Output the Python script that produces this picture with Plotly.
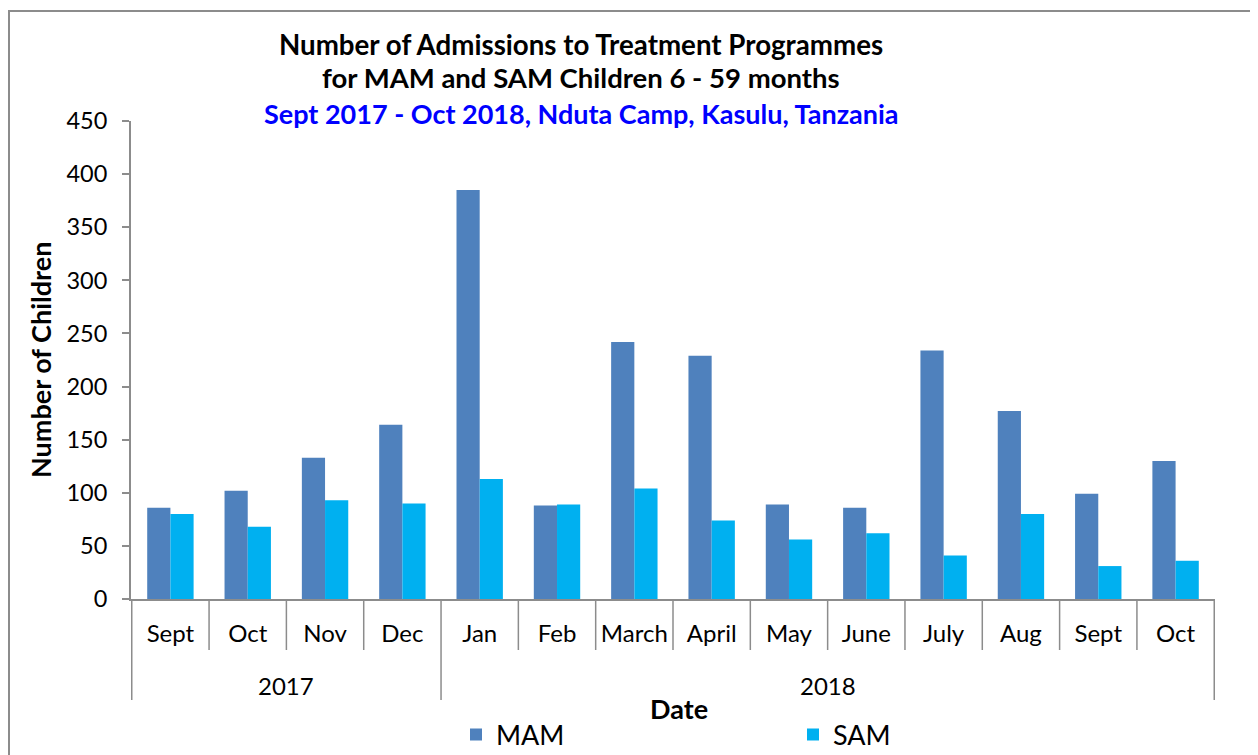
import plotly.graph_objects as go

years = ["2017"] * 4 + ["2018"] * 10
months = ["Sept", "Oct", "Nov", "Dec", "Jan", "Feb", "March", "April",
          "May", "June", "July", "Aug", "Sept", "Oct"]
mam = [86, 102, 133, 164, 385, 88, 242, 229, 89, 86, 234, 177, 99, 130]
sam = [80, 68, 93, 90, 113, 89, 104, 74, 56, 62, 41, 80, 31, 36]

FONT = "Lato"
OFF = 8                      # page body margin
W, H = 1258 - OFF, 755 - OFF
# target plot area in screen pixels: x 131..1215, y 121..599
L, R = 131 - OFF, (W + OFF) - 1215
T, B = 121 - OFF, (H + OFF) - 599

keys = [f"{m} {y}" for m, y in zip(months, years)]

fig = go.Figure()
fig.add_trace(go.Bar(name="MAM", x=keys, y=mam,
                     marker=dict(color="#4F81BD", line=dict(width=0))))
fig.add_trace(go.Bar(name="SAM", x=keys, y=sam,
                     marker=dict(color="#00B0F0", line=dict(width=0))))

axis_col = "#8c8c8c"

def px_to_paper_x(px):
    return (px - OFF - L) / (W - L - R)

def px_to_paper_y(py):
    return (H - B - (py - OFF)) / (H - T - B)

fig.update_layout(
    width=W, height=H,
    margin=dict(l=L, r=R, t=T, b=B, pad=0, autoexpand=False),
    paper_bgcolor="white", plot_bgcolor="white",
    barmode="group", bargap=0.4, bargroupgap=0,
    font=dict(family=FONT, size=24, color="black"),
    showlegend=True,
    legend=dict(orientation="h", x=px_to_paper_x(456), xanchor="left",
                y=px_to_paper_y(735), yanchor="middle",
                entrywidth=292, font=dict(size=27), itemwidth=30,
                bgcolor="rgba(0,0,0,0)"),
    xaxis=dict(type="category", tickvals=keys, ticktext=months,
               showline=True, linecolor=axis_col, linewidth=2,
               ticks="", showgrid=False, automargin=False,
               tickfont=dict(size=24), ticklabelstandoff=12),
    yaxis=dict(range=[0, 450], dtick=50, showline=True, linecolor=axis_col, linewidth=2,
               ticks="outside", ticklen=7, tickcolor=axis_col, tickwidth=1.5,
               showgrid=False, zeroline=False, tickfont=dict(size=23.5),
               ticklabelstandoff=10, automargin=False),
)

# category boundary lines below the axis
n = len(months)
for i in range(n + 1):
    bx = i - 0.5
    is_year_edge = (i == 0 or i == n or (0 < i < n and years[i] != years[i - 1]))
    y_end = 700 if is_year_edge else 650
    fig.add_shape(type="line", xref="x", yref="paper",
                  x0=bx, x1=bx, y0=0, y1=px_to_paper_y(y_end),
                  line=dict(color=axis_col, width=1.5))

# year labels
for yr in ["2017", "2018"]:
    idx = [i for i, y in enumerate(years) if y == yr]
    fig.add_annotation(text=yr, xref="x", yref="paper",
                       x=(idx[0] + idx[-1]) / 2, y=px_to_paper_y(685),
                       xanchor="center", yanchor="middle", showarrow=False,
                       font=dict(size=24, color="black", family=FONT))

title_lines = [
    ("<b>Number of Admissions to Treatment Programmes</b>", 45, "black", 27.7),
    ("<b>for MAM and SAM Children 6 - 59 months</b>", 77, "black", 27.5),
    ("<b>Sept 2017 - Oct 2018, Nduta Camp, Kasulu, Tanzania</b>", 114, "#0000FF", 27),
]
for txt, ypx, col, fs in title_lines:
    fig.add_annotation(text=txt, xref="paper", yref="paper",
                       x=px_to_paper_x(581), y=px_to_paper_y(ypx),
                       xanchor="center", yanchor="middle", showarrow=False,
                       font=dict(size=fs, color=col, family=FONT))

fig.add_annotation(text="<b>Date</b>", xref="paper", yref="paper",
                   x=px_to_paper_x(679), y=px_to_paper_y(708),
                   xanchor="center", yanchor="middle", showarrow=False,
                   font=dict(size=27, color="black", family=FONT))

fig.add_annotation(text="<b>Number of Children</b>", xref="paper", yref="paper",
                   x=px_to_paper_x(40), y=px_to_paper_y(360), textangle=-90,
                   xanchor="center", yanchor="middle", showarrow=False,
                   font=dict(size=27, color="black", family=FONT))

# outer chart border
fig.add_shape(type="rect", xref="paper", yref="paper",
              x0=px_to_paper_x(9), x1=px_to_paper_x(1270),
              y0=px_to_paper_y(770), y1=px_to_paper_y(11),
              line=dict(color="#8c8c8c", width=2), layer="below")

fig.write_html("out.html")
